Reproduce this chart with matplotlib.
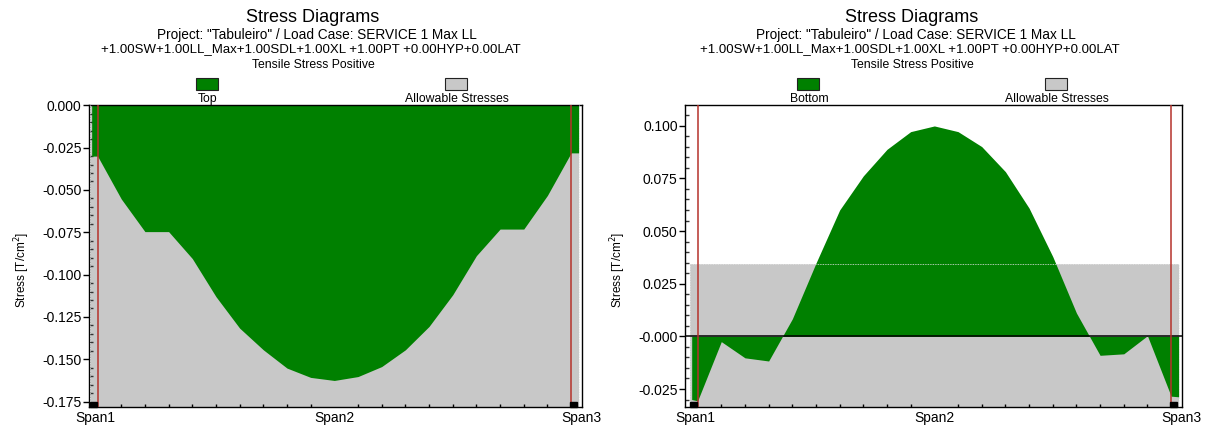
import matplotlib
matplotlib.use("Agg")
import matplotlib.pyplot as plt
from matplotlib.patches import Rectangle
from matplotlib.ticker import FixedLocator, FixedFormatter, MultipleLocator
from matplotlib import font_manager

# ---- data -------------------------------------------------------------
# stations along the deck (tenths of the span between supports), with the
# short overhang beyond each support at both ends
stations = [-0.25, 0, 1, 2, 3, 4, 5, 6, 7, 8, 9, 10,
            11, 12, 13, 14, 15, 16, 17, 18, 19, 20, 20.32]

top_stress = [-0.0300, -0.0300, -0.0553, -0.0746, -0.0746, -0.0905, -0.1130,
              -0.1316, -0.1444, -0.1552, -0.1607, -0.1625, -0.1602, -0.1543,
              -0.1444, -0.1306, -0.1119, -0.0888, -0.0731, -0.0731, -0.0532,
              -0.0281, -0.0281]

bottom_stress = [-0.0300, -0.0306, -0.0025, -0.0102, -0.0117, 0.0083, 0.0348,
                 0.0600, 0.0762, 0.0888, 0.0972, 0.0999, 0.0972, 0.0901,
                 0.0782, 0.0609, 0.0379, 0.0111, -0.0090, -0.0083, 0.0003,
                 -0.0284, -0.0287]

allow_x = [-0.32, 20.33]
allow_tension = 0.0345
allow_compression = -0.18

supports = [0, 20]
span_labels = ["Span1", "Span2", "Span3"]
span_label_x = [-0.1, 10.0, 20.42]

title = "Stress Diagrams"
subtitle_1 = 'Project: "Tabuleiro" / Load Case: SERVICE 1 Max LL'
subtitle_2 = "+1.00SW+1.00LL_Max+1.00SDL+1.00XL +1.00PT +0.00HYP+0.00LAT"
subtitle_3 = "Tensile Stress Positive"

left_yticks = [0.0, -0.025, -0.05, -0.075, -0.1, -0.125, -0.15, -0.175]
left_ylabels = ["0.000", "-0.025", "-0.050", "-0.075", "-0.100", "-0.125",
                "-0.150", "-0.175"]
right_yticks = [-0.025, 0.0, 0.025, 0.05, 0.075, 0.1]
right_ylabels = ["-0.025", "-0.000", "0.025", "0.050", "0.075", "0.100"]

# ---- style ------------------------------------------------------------
GREEN = "#008000"
GRAY = "#c8c8c8"
RED = "#b5312b"

names = {f.name for f in font_manager.fontManager.ttflist}
family = [f for f in ["Liberation Sans Narrow", "Liberation Sans", "DejaVu Sans"]
          if f in names]
plt.rcParams["font.family"] = family

W, H = 1205, 432
fig = plt.figure(figsize=(W / 100, H / 100), dpi=100)


def fx(px):
    return px / W


def fy(py):
    return 1 - py / H


def draw_panel(left_px, right_px, xlim, ylim, values, series_name,
               yticks, ylabels, zero_line, legend_x, title_x):
    ax = fig.add_axes([fx(left_px), fy(406.7), fx(right_px - left_px),
                       (406.7 - 105.3) / H])
    ax.set_xlim(*xlim)
    ax.set_ylim(*ylim)

    # allowable band
    ax.fill_between(allow_x, allow_compression, allow_tension,
                    color=GRAY, lw=0, zorder=1)
    # stress diagram
    ax.fill_between(stations, 0, values, color=GREEN, lw=0, zorder=2)
    # outline of the allowable band, visible through the diagram
    ax.plot([allow_x[0], allow_x[0], allow_x[1], allow_x[1]],
            [allow_compression, allow_tension, allow_tension, allow_compression],
            color="#e6e6e6", lw=0.6, ls=(0, (1, 1)), zorder=3)
    if zero_line:
        ax.axhline(0, color="black", lw=1.1, zorder=4)
    for s in supports:
        ax.axvline(s, color=RED, lw=1.1, zorder=5)

    # support marks on the base line
    for x0 in [allow_x[0], supports[1] - 0.04]:
        ax.add_patch(Rectangle((x0, 0), 0.3, 0.017, color="black",
                               transform=ax.get_xaxis_transform(),
                               zorder=6, clip_on=False))

    for sp in ax.spines.values():
        sp.set_linewidth(1.0)
        sp.set_color("black")

    ax.yaxis.set_major_locator(FixedLocator(yticks))
    ax.yaxis.set_major_formatter(FixedFormatter(ylabels))
    ax.yaxis.set_minor_locator(MultipleLocator(0.005))
    ax.tick_params(axis="y", which="major", direction="out", length=4.5,
                   width=1.0, labelsize=10, pad=1)
    ax.tick_params(axis="y", which="minor", direction="in", length=3,
                   width=1.0, color="#333333")

    ax.xaxis.set_major_locator(FixedLocator(span_label_x))
    ax.xaxis.set_major_formatter(FixedFormatter(span_labels))
    ax.xaxis.set_minor_locator(FixedLocator(list(range(1, 20))))
    ax.tick_params(axis="x", which="major", length=0, labelsize=10, pad=3)
    ax.tick_params(axis="x", which="minor", direction="in", length=2.5,
                   width=1.0)

    fig.text(fx(left_px - 67), fy(270), "Stress [T/cm$^2$]", rotation=90,
             ha="center", va="center", fontsize=8.5)

    # titles
    fig.text(fx(title_x), fy(18), title, ha="center", va="center",
             fontsize=13)
    fig.text(fx(title_x + 4), fy(35), subtitle_1, ha="center", va="center",
             fontsize=9.8)
    fig.text(fx(title_x - 2), fy(49), subtitle_2, ha="center", va="center",
             fontsize=9.5)
    fig.text(fx(title_x), fy(65), subtitle_3, ha="center", va="center",
             fontsize=8.8)

    # legend
    for (cx, label, color) in [(legend_x[0], series_name, GREEN),
                               (legend_x[1], "Allowable Stresses", GRAY)]:
        fig.patches.append(Rectangle((fx(cx - 11), fy(90)), fx(22),
                                     12 / H, facecolor=color,
                                     edgecolor="#222222", lw=0.8,
                                     transform=fig.transFigure, figure=fig))
        fig.text(fx(cx + 1), fy(99), label, ha="center", va="center",
                 fontsize=8.8)
    return ax


draw_panel(89.3, 582.0, (-0.35, 20.46), (-0.178, 0.0), top_stress, "Top",
           left_yticks, left_ylabels, False, (207, 456), 313)
draw_panel(685.3, 1182.0, (-0.52, 20.46), (-0.0334, 0.1097), bottom_stress,
           "Bottom", right_yticks, right_ylabels, True, (808, 1056), 912)

fig.savefig("out.png", dpi=100)
